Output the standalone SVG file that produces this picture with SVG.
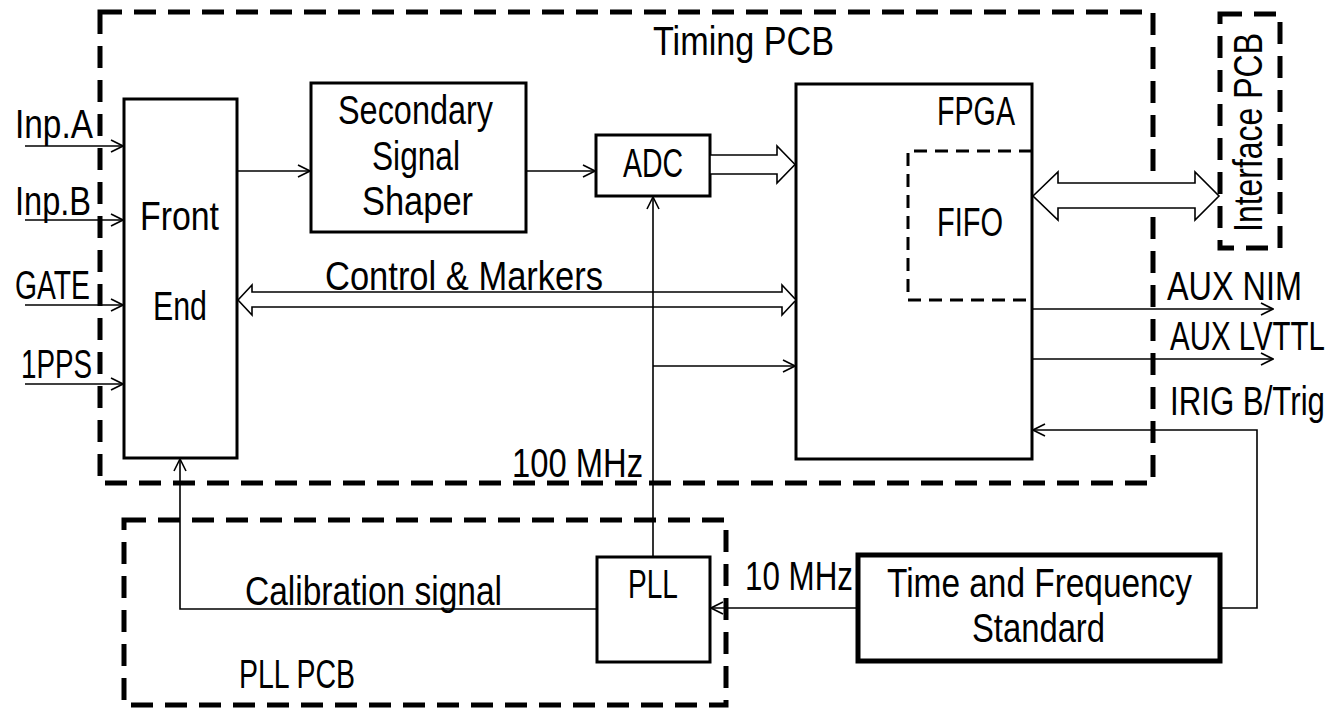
<svg xmlns="http://www.w3.org/2000/svg" width="1332" height="709" viewBox="0 0 1332 709">
<defs>
<style>
text{font-family:"Liberation Sans",Arial,sans-serif;font-size:40px;fill:#000}
.box{fill:#fff;stroke:#000;stroke-width:3}
.pcb{fill:none;stroke:#000;stroke-width:5;stroke-dasharray:22 12}
.fifo{fill:none;stroke:#000;stroke-width:3;stroke-dasharray:13 8}
.ln{fill:none;stroke:#000;stroke-width:1.6}
.hol{fill:#fff;stroke:#000;stroke-width:1.6;stroke-linejoin:miter}
</style>
<marker id="ah" viewBox="0 0 14 14" refX="13" refY="7" markerWidth="14" markerHeight="14" markerUnits="userSpaceOnUse" orient="auto">
<path d="M1,1 L13,7 L1,13" fill="none" stroke="#000" stroke-width="1.6"/>
</marker>
</defs>
<rect width="1332" height="709" fill="#fff"/>

<g id="timing-pcb">
<rect class="pcb" x="100" y="12" width="1053" height="471"/>
<text x="653" y="55" textLength="181" lengthAdjust="spacingAndGlyphs">Timing PCB</text>
</g>
<g id="interface-pcb">
<rect class="pcb" x="1220" y="14" width="60" height="234"/>
<text transform="translate(1262,232) rotate(-90)" textLength="199" lengthAdjust="spacingAndGlyphs">Interface PCB</text>
</g>
<g id="pll-pcb">
<rect class="pcb" x="124" y="520" width="602" height="185"/>
<text x="239" y="688" textLength="116" lengthAdjust="spacingAndGlyphs">PLL PCB</text>
</g>

<g id="front-end">
<rect class="box" x="124" y="99" width="113" height="359"/>
<text x="140" y="230" textLength="79" lengthAdjust="spacingAndGlyphs">Front</text>
<text x="153" y="320" textLength="54" lengthAdjust="spacingAndGlyphs">End</text>
</g>
<g id="shaper">
<rect class="box" x="311" y="83" width="215" height="149"/>
<text x="338" y="124" textLength="155" lengthAdjust="spacingAndGlyphs">Secondary</text>
<text x="372" y="170" textLength="88" lengthAdjust="spacingAndGlyphs">Signal</text>
<text x="362" y="215" textLength="111" lengthAdjust="spacingAndGlyphs">Shaper</text>
</g>
<g id="adc">
<rect class="box" x="596" y="135" width="114" height="61"/>
<text x="623" y="177" textLength="60" lengthAdjust="spacingAndGlyphs">ADC</text>
</g>
<g id="fpga">
<rect class="box" x="796" y="84" width="236" height="375"/>
<text x="937" y="125" textLength="78" lengthAdjust="spacingAndGlyphs">FPGA</text>
</g>
<g id="fifo">
<path class="fifo" d="M1032,151 H908 V300 H1032"/>
<text x="937" y="236" textLength="66" lengthAdjust="spacingAndGlyphs">FIFO</text>
</g>
<g id="pll">
<rect class="box" x="597" y="557" width="113" height="105"/>
<text x="628" y="598" textLength="50" lengthAdjust="spacingAndGlyphs">PLL</text>
</g>
<g id="tfs">
<rect class="box" x="858" y="555" width="362" height="106" style="stroke-width:5"/>
<text x="887" y="597" textLength="305" lengthAdjust="spacingAndGlyphs">Time and Frequency</text>
<text x="972" y="642" textLength="133" lengthAdjust="spacingAndGlyphs">Standard</text>
</g>

<g id="connectors">
<line class="ln" x1="25" y1="146" x2="123" y2="146" marker-end="url(#ah)"/>
<line class="ln" x1="25" y1="220" x2="123" y2="220" marker-end="url(#ah)"/>
<line class="ln" x1="25" y1="305" x2="123" y2="305" marker-end="url(#ah)"/>
<line class="ln" x1="25" y1="384" x2="123" y2="384" marker-end="url(#ah)"/>
<line class="ln" x1="237" y1="171" x2="310" y2="171" marker-end="url(#ah)"/>
<line class="ln" x1="526" y1="171" x2="595" y2="171" marker-end="url(#ah)"/>
<polygon class="hol" points="710,155 777,155 777,146 795,164.5 777,183 777,174 710,174"/>
<polygon class="hol" points="238,300 252,285 252,292 782,292 782,285 796,300 782,315 782,307 252,307 252,315"/>
<polygon class="hol" points="1033,196 1058,172 1058,183 1195,183 1195,172 1219,196 1195,220 1195,208 1058,208 1058,220"/>
<path class="ln" d="M653,557 V197" marker-end="url(#ah)"/>
<line class="ln" x1="653" y1="366" x2="795" y2="366" marker-end="url(#ah)"/>
<path class="ln" d="M597,609 H180 V459" marker-end="url(#ah)"/>
<line class="ln" x1="856" y1="608" x2="711" y2="608" marker-end="url(#ah)"/>
<path class="ln" d="M1220,608 H1257 V430 H1033" marker-end="url(#ah)"/>
<line class="ln" x1="1032" y1="309" x2="1273" y2="309" marker-end="url(#ah)"/>
<line class="ln" x1="1032" y1="359" x2="1273" y2="359" marker-end="url(#ah)"/>
</g>

<g id="labels">
<text x="15" y="138" textLength="78" lengthAdjust="spacingAndGlyphs">Inp.A</text>
<text x="15" y="215" textLength="76" lengthAdjust="spacingAndGlyphs">Inp.B</text>
<text x="15" y="299" textLength="75" lengthAdjust="spacingAndGlyphs">GATE</text>
<text x="21" y="378" textLength="71" lengthAdjust="spacingAndGlyphs">1PPS</text>
<text x="325" y="290" textLength="278" lengthAdjust="spacingAndGlyphs">Control &amp; Markers</text>
<text x="512" y="477" textLength="131" lengthAdjust="spacingAndGlyphs">100 MHz</text>
<text x="245" y="605" textLength="257" lengthAdjust="spacingAndGlyphs">Calibration signal</text>
<text x="745" y="590" textLength="108" lengthAdjust="spacingAndGlyphs">10 MHz</text>
<text x="1167" y="300" textLength="135" lengthAdjust="spacingAndGlyphs">AUX NIM</text>
<text x="1170" y="350" textLength="155" lengthAdjust="spacingAndGlyphs">AUX LVTTL</text>
<text x="1170" y="415" textLength="155" lengthAdjust="spacingAndGlyphs">IRIG B/Trig</text>
</g>
</svg>
